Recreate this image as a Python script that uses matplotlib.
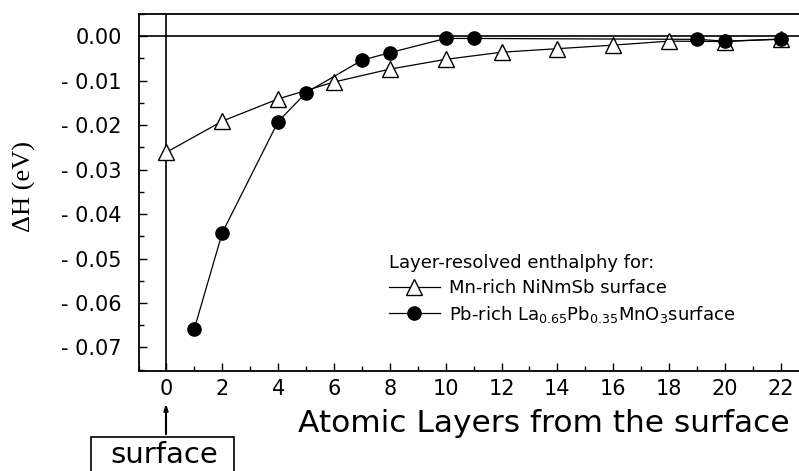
#!/usr/bin/env python3

import matplotlib
matplotlib.use("Agg")
import matplotlib.pyplot as plt
from matplotlib.patches import Rectangle
from matplotlib.ticker import MultipleLocator, FuncFormatter

# Mn-rich NiMnSb surface (open triangles)
layers_mn = [0, 2, 4, 6, 8, 10, 12, 14, 16, 18, 20, 22]
dh_mn = [-0.0261, -0.0191, -0.0141, -0.0103, -0.0074, -0.0052,
         -0.0036, -0.0028, -0.0020, -0.0011, -0.0012, -0.0006]

# Pb-rich LPMO surface (filled circles)
layers_pb = [1, 2, 4, 5, 7, 8, 10, 11, 19, 20, 22]
dh_pb = [-0.0658, -0.0442, -0.0192, -0.0127, -0.0054, -0.0037,
         -0.0005, -0.0005, -0.0007, -0.0011, -0.0007]

label_mn = "Mn-rich NiNmSb surface"
label_pb = r"Pb-rich La$_{0.65}$Pb$_{0.35}$MnO$_3$surface"
legend_title = "Layer-resolved enthalphy for:"

W, H = 799, 471
fig = plt.figure(figsize=(W / 100, H / 100), dpi=100)
ax = fig.add_axes([138.5 / W, 1 - 371 / H, 1 - 138.5 / W, (371 - 14) / H])

ax.axhline(0, color="black", lw=1.2, zorder=1)
ax.axvline(0, color="black", lw=1.2, zorder=1)

ax.plot(layers_mn, dh_mn, color="black", lw=0.9, marker="^", ms=11,
        mfc="white", mec="black", mew=1.0, label=label_mn, zorder=3)
ax.plot(layers_pb, dh_pb, color="black", lw=0.9, marker="o", ms=9.5,
        mfc="black", mec="black", label=label_pb, zorder=4)

ax.set_xlim(-1, 22.65)
ax.set_ylim(-0.0753, 0.005)

ax.xaxis.set_major_locator(MultipleLocator(2))
ax.xaxis.set_minor_locator(MultipleLocator(1))
ax.yaxis.set_major_locator(MultipleLocator(0.01))
ax.yaxis.set_minor_locator(MultipleLocator(0.005))


def yfmt(v, pos):
    if abs(v) < 1e-9:
        return "0.00"
    if v < 0:
        return "- %.2f" % abs(v)
    return "%.2f" % v


ax.yaxis.set_major_formatter(FuncFormatter(yfmt))
ax.tick_params(which="both", direction="in", top=False, right=False,
               width=1.0, labelsize=15)
ax.tick_params(which="major", length=6)
ax.tick_params(which="minor", length=3.5)
ax.tick_params(axis="y", pad=12)
ax.tick_params(axis="x", pad=6)

for s in ["left", "bottom", "top"]:
    ax.spines[s].set_linewidth(1.3)
ax.spines["right"].set_visible(False)

fig.text(24 / W, 1 - 186 / H, "\u0394H (eV)", rotation=90,
         family="Liberation Serif", fontsize=19, ha="center", va="center")
fig.text(544 / W, 1 - 424 / H, "Atomic Layers from the surface",
         fontsize=22.5, ha="center", va="center")

leg = ax.legend(loc="upper left", bbox_to_anchor=(389 / W, 1 - 254 / H),
                bbox_transform=fig.transFigure, frameon=False,
                title=legend_title, alignment="left", fontsize=13,
                title_fontsize=13, handlelength=2.8, handletextpad=0.5,
                labelspacing=0.38, borderpad=0, borderaxespad=0)

# surface marker box below the axis
fig.add_artist(Rectangle((91 / W, 1 - 480 / H), 143 / W, 43 / H,
                         transform=fig.transFigure, fill=False,
                         edgecolor="black", lw=1.2, clip_on=False))
fig.text(164 / W, 1 - 463 / H, "surface", fontsize=21,
         ha="center", va="baseline")
ax.annotate("", xy=(166 / W, 1 - 401 / H), xytext=(166 / W, 1 - 437 / H),
            xycoords="figure fraction", textcoords="figure fraction",
            arrowprops=dict(arrowstyle="-|>,head_length=0.35,head_width=0.12",
                            color="black", lw=1.5))

fig.savefig("out.png", dpi=100)
